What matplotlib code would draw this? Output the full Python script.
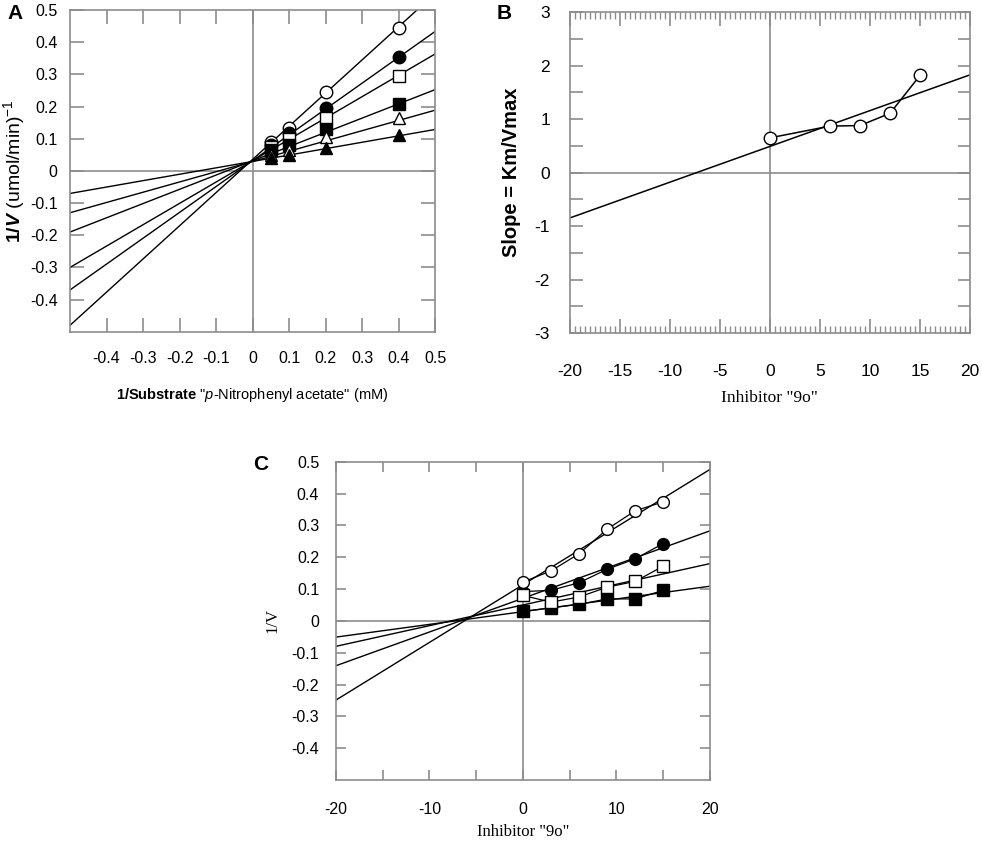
import numpy as np
import matplotlib
matplotlib.use("Agg")
import matplotlib.pyplot as plt
from matplotlib.ticker import MultipleLocator, FixedLocator

plt.rcParams['font.family'] = ['Liberation Sans', 'DejaVu Sans']
plt.rcParams['axes.unicode_minus'] = False
plt.rcParams['mathtext.fontset'] = 'custom'
plt.rcParams['mathtext.rm'] = 'Liberation Sans'
plt.rcParams['mathtext.it'] = 'Liberation Sans:italic'
plt.rcParams['mathtext.bf'] = 'Liberation Sans:bold'
plt.rcParams['mathtext.bfit'] = 'Liberation Sans:bold:italic'

# ---- panel A: Lineweaver-Burk, 1/[S] vs 1/V
subs_x = [0.05, 0.1, 0.2, 0.4]
a_open_circle = [0.090, 0.134, 0.245, 0.443]
a_fill_circle = [0.080, 0.118, 0.197, 0.354]
a_open_square = [0.075, 0.100, 0.163, 0.294]
a_fill_square = [0.065, 0.080, 0.129, 0.209]
a_open_tri = [0.050, 0.065, 0.104, 0.163]
a_fill_tri = [0.040, 0.050, 0.070, 0.111]
# fitted lines, value at x=-0.5 and x=0.5
a_fit_x = [-0.5, 0.5]
a_fit_ends = [(-0.48, 0.552), (-0.37, 0.434), (-0.30, 0.364),
              (-0.19, 0.253), (-0.13, 0.189), (-0.07, 0.129)]

# ---- panel B: secondary plot, slope vs inhibitor
b_inh = [0, 6, 9, 12, 15]
b_slope = [0.65, 0.87, 0.88, 1.11, 1.82]
b_fit_x = [-20, 20]
b_fit_y = [-0.85, 1.83]

# ---- panel C: Dixon plot, inhibitor vs 1/V
c_inh = [0, 3, 6, 9, 12, 15]
c_open_circle = [0.122, 0.157, 0.211, 0.288, 0.346, 0.374]
c_fill_circle = [0.092, 0.096, 0.120, 0.162, 0.195, 0.243]
c_open_square = [0.080, 0.059, 0.075, 0.106, 0.124, 0.172]
c_fill_square = [0.030, 0.041, 0.052, 0.069, 0.069, 0.096]
c_fit_x = [-20, 20]
c_fit_ends = [(-0.249, 0.476), (-0.141, 0.283), (-0.080, 0.180), (-0.051, 0.109)]

GRAY = '#8c8c8c'
SERIF = ['Liberation Serif', 'DejaVu Serif']

fig = plt.figure(figsize=(9.82, 8.42), dpi=100)


def frame(ax):
    for s in ax.spines.values():
        s.set_color(GRAY)
        s.set_linewidth(1.2)
    ax.axhline(0, color=GRAY, lw=1.2, zorder=1)
    ax.axvline(0, color=GRAY, lw=1.2, zorder=1)
    ax.tick_params(which='both', direction='in', top=True, right=True, color=GRAY)


def marker(ax, x, y, m, filled, ms):
    ax.plot(x, y, marker=m, ls='none', ms=ms, mec='black', mew=1.0,
            mfc='black' if filled else 'white', zorder=4)


# ===== A
axA = fig.add_axes([0.0713, 0.606, 0.372, 0.382])
frame(axA)
for lo, hi in a_fit_ends:
    axA.plot(a_fit_x, [lo, hi], color='black', lw=1.0, zorder=2)
a_series = [(a_open_circle, 'o', False), (a_fill_circle, 'o', True),
            (a_open_square, 's', False), (a_fill_square, 's', True),
            (a_open_tri, '^', False), (a_fill_tri, '^', True)]
for ys, m, f in a_series:
    marker(axA, subs_x, ys, m, f, 9)
axA.set_xlim(-0.5, 0.5)
axA.set_ylim(-0.5, 0.5)
axA.xaxis.set_major_locator(FixedLocator(np.round(np.arange(-0.4, 0.51, 0.1), 1)))
axA.yaxis.set_major_locator(FixedLocator(np.round(np.arange(-0.4, 0.51, 0.1), 1)))
axA.xaxis.set_major_formatter(lambda v, p: '0' if abs(v) < 1e-9 else f'{v:g}')
axA.yaxis.set_major_formatter(lambda v, p: '0' if abs(v) < 1e-9 else f'{v:g}')
axA.tick_params(length=10, width=1.2, labelsize=11.5)
axA.tick_params(axis='x', pad=14)
axA.tick_params(axis='y', pad=9)
axA.set_xlabel(r'$\mathbf{1/Substrate}$ "$\mathit{p}$-Nitrophenyl acetate" (mM)',
               fontsize=10.5, labelpad=14)
axA.set_ylabel(r'$\mathbf{1/}\mathbfit{V}$ (umol/min)$^{-1}$', fontsize=14, labelpad=2)
fig.text(0.008, 0.984, 'A', fontsize=15, fontweight='bold', ha='left', va='center')

# ===== B
axB = fig.add_axes([0.580, 0.6045, 0.408, 0.381])
frame(axB)
axB.plot(b_fit_x, b_fit_y, color='black', lw=1.1, zorder=2)
axB.plot(b_inh, b_slope, color='black', lw=1.1, zorder=3)
marker(axB, b_inh, b_slope, 'o', False, 9)
axB.set_xlim(-20, 20)
axB.set_ylim(-3, 3)
axB.xaxis.set_major_locator(MultipleLocator(5))
axB.xaxis.set_minor_locator(MultipleLocator(0.5))
axB.yaxis.set_major_locator(MultipleLocator(1))
axB.yaxis.set_minor_locator(MultipleLocator(0.5))
axB.tick_params(axis='x', which='major', length=10, width=1.2, pad=22, labelsize=12.5)
axB.tick_params(axis='x', which='minor', length=5, width=1.0)
axB.tick_params(axis='y', which='both', length=9, width=1.2)
axB.tick_params(axis='y', which='major', pad=14, labelsize=12.5)
axB.set_xlabel('Inhibitor "9o"', fontfamily=SERIF, fontsize=12.5, labelpad=8)
axB.set_ylabel('Slope = Km/Vmax', fontsize=14.5, fontweight='bold', labelpad=10)
fig.text(0.506, 0.984, 'B', fontsize=15, fontweight='bold', ha='left', va='center')

# ===== C
axC = fig.add_axes([0.342, 0.0736, 0.381, 0.378])
frame(axC)
for lo, hi in c_fit_ends:
    axC.plot(c_fit_x, [lo, hi], color='black', lw=1.0, zorder=2)
c_series = [(c_fill_square, 's', True), (c_fill_circle, 'o', True),
            (c_open_square, 's', False), (c_open_circle, 'o', False)]
for ys, m, f in c_series:
    axC.plot(c_inh, ys, color='black', lw=0.9, zorder=3)
    marker(axC, c_inh, ys, m, f, 8.5)
axC.set_xlim(-20, 20)
axC.set_ylim(-0.5, 0.5)
axC.xaxis.set_major_locator(MultipleLocator(5))
axC.xaxis.set_major_formatter(lambda v, p: f'{v:g}' if v % 10 == 0 else '')
axC.yaxis.set_major_locator(FixedLocator(np.round(np.arange(-0.4, 0.51, 0.1), 1)))
axC.yaxis.set_major_formatter(lambda v, p: '0' if abs(v) < 1e-9 else f'{v:g}')
axC.tick_params(length=7, width=1.2, labelsize=11.5)
axC.tick_params(axis='x', pad=16)
axC.tick_params(axis='y', pad=12)
axC.set_xlabel('Inhibitor "9o"', fontfamily=SERIF, fontsize=12, labelpad=5)
axC.set_ylabel('1/V', fontfamily=SERIF, fontsize=12, labelpad=8)
fig.text(0.258, 0.448, 'C', fontsize=15, fontweight='bold', ha='left', va='center')

fig.savefig('out.png', dpi=100)
